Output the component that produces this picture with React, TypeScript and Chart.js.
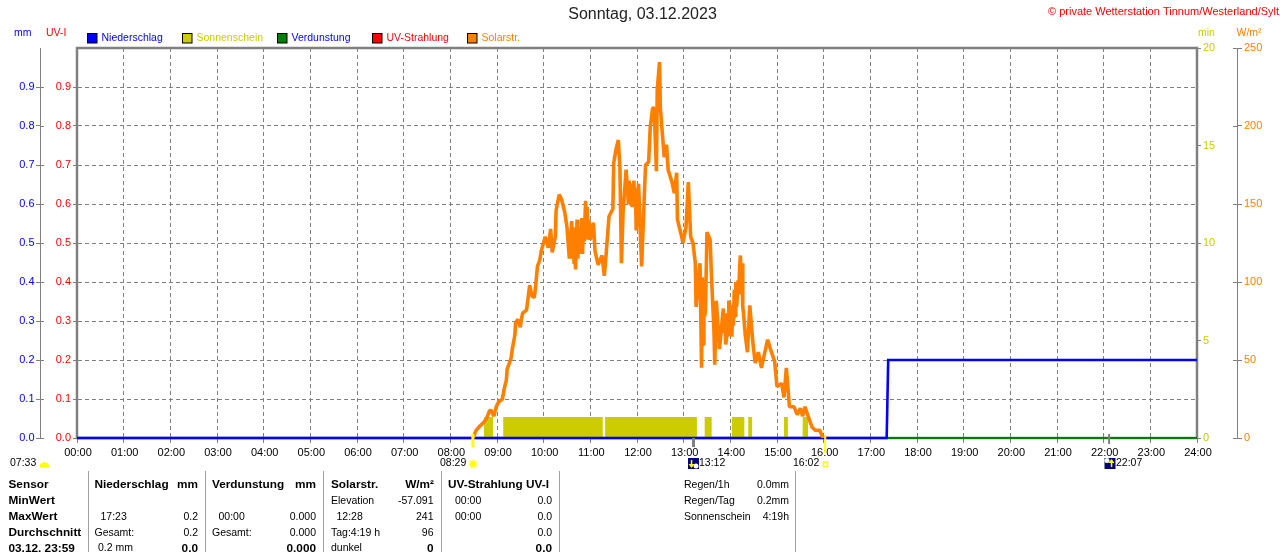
import React, { useEffect, useRef } from "react";
import { Chart, registerables } from "chart.js";

Chart.register(...registerables);

const titleText = "Sonntag, 03.12.2023";
const copyrightText = "© private Wetterstation Tinnum/Westerland/Sylt";

const solarMinutes = [509,513,518,523,527,530,532,536,539,542,547,549,552,553,558,560,563,564,567,570,571,573,578,580,582,585,588,590,592,595,597,602,606,609,611,615,616,620,623,627,630,633,636,637,638,639,640,641,642,643,644,645,646,647,648,649,650,651,652,653,654,655,656,657,658,659,660,664,666,670,675,678,680,684,689,690,693,696,698,700,702,706,708,709,710,711,712,713,714,715,716,717,718,719,720,721,722,723,724,726,729,731,735,737,740,742,745,746,749,750,752,755,758,760,765,768,771,772,777,779,783,786,789,792,795,796,801,803,804,805,806,807,808,810,814,816,819,820,822,826,831,832,833,834,835,836,837,838,839,840,841,842,843,844,845,846,847,848,849,850,851,852,853,854,855,856,857,859,862,865,869,872,876,880,883,888,891,897,900,906,909,912,916,922,926,930,933,936,940,945,949,955,958,963];
const solarWatts = [0,4.7,7.7,10,13,17,18,14,20,23,25,31,37,44,51,58,66,74,76,71,75,80,82,90,98,91,90,99,110,114,120,129,122,134,119,129,146,156,153,145,135,115,139,115,135,112,130,108,125,140,115,135,118,124,130,141,118,135,127,140,152,130,148,128,140,136,127,138,120,111,117,104,116,142,147,176,185,191,174,112,144,172,158,150,165,150,161,163,148,155,165,150,160,133,145,155,163,150,135,110,150,175,177,199,211,212,171,223,241,212,199,180,188,172,164,157,170,140,130,125,135,164,129,125,112,84,112,45,103,60,100,78,82,132,127,101,68,47,88,57,83,68,80,60,63,80,66,88,86,70,85,65,85,72,95,78,100,84,90,101,92,110,117,100,112,84,80,67,55,85,61,48,55,45,52,63,58,49,33,35,26,45,20,20,15,19,14,20,14,7,5,5,1,0];

const sunStartMinutes = [523,548,679,807,842,863,909,933];
const sunEndMinutes = [535,676,797,816,858,868,914,940];
const sunLevelMinutes = 1.08;

const rainMinutes = [0,1041,1042,1043,1440];
const rainMm = [0,0,0.1,0.2,0.2];

const flatMinutes = [0,1440];
const evaporationMm = [0,0];
const uvIndex = [0,0];

const legendLabels = ["Niederschlag","Sonnenschein","Verdunstung","UV-Strahlung","Solarstr."];
const legendBoxColors = ["#0000ff","#cccc00","#008000","#ff0000","#ff8000"];
const legendTextColors = ["#0000ff","#cccc00","#0000ff","#ff0000","#ff8000"];

const sunriseMinute = 509;
const sunsetMinute = 962;
const moonsetMinute = 792;
const moonriseMinute = 1327;

const tableHeaders = ["Sensor","Niederschlag","mm","Verdunstung","mm","Solarstr.","W/m²","UV-Strahlung UV-I"];
const rowNames = ["MinWert","MaxWert","Durchschnitt","03.12. 23:59"];
const rainTexts = ["","17:23","Gesamt:","0.2 mm"];
const rainValues = ["","0.2","0.2","0.0"];
const evapTexts = ["","00:00","Gesamt:",""];
const evapValues = ["","0.000","0.000","0.000"];
const solarTexts = ["Elevation","12:28","Tag:4:19 h","dunkel"];
const solarValues = ["-57.091","241","96","0"];
const uvTexts = ["00:00","00:00","",""];
const uvValues = ["0.0","0.0","0.0","0.0"];
const sideLabels = ["Regen/1h","Regen/Tag","Sonnenschein"];
const sideValues = ["0.0mm","0.2mm","4:19h"];

const FONT = '"Liberation Sans", Arial, sans-serif';
const GRAY = "#808080";

const overlay = {
  id: "overlay",
  beforeDatasetsDraw(chart: any) {
    const { ctx, chartArea: a } = chart;
    ctx.save();
    ctx.strokeStyle = GRAY;
    ctx.lineWidth = 2.5;
    ctx.strokeRect(a.left, a.top, a.right - a.left, a.bottom - a.top);
    ctx.restore();
  },
  afterDraw(chart: any) {
    const { ctx, scales } = chart;
    const x = scales.x;
    const text = (s: string, px: number, py: number, color = "#000", font = "10.5px", align: CanvasTextAlign = "left") => {
      ctx.font = `${font} ${FONT}`;
      ctx.fillStyle = color;
      ctx.textAlign = align;
      ctx.textBaseline = "middle";
      ctx.fillText(s, px, py);
    };
    ctx.save();

    text(titleText, 642.5, 15, "#222", "16px", "center");
    text(copyrightText, 1048, 11.5, "#ff0000", "11px");
    text("mm", 14, 33, "#0000ff");
    text("UV-I", 46, 33, "#ff0000");
    text("min", 1198, 33, "#cccc00");
    text("W/m²", 1236.5, 33, "#ff8000");

    legendLabels.forEach((label, i) => {
      const bx = 87.5 + i * 95;
      ctx.fillStyle = legendBoxColors[i];
      ctx.fillRect(bx, 33.5, 9.5, 9.5);
      ctx.strokeStyle = "#000";
      ctx.lineWidth = 1;
      ctx.strokeRect(bx, 33.5, 9.5, 9.5);
      text(label, bx + 14, 38.5, legendTextColors[i]);
    });

    // both-sided tick stubs on the outer axes
    ctx.strokeStyle = GRAY;
    ctx.lineWidth = 1;
    scales.mm.ticks.forEach((t: any) => {
      const py = Math.round(scales.mm.getPixelForValue(t.value)) + 0.5;
      if (t.value > 0.95) return;
      ctx.beginPath(); ctx.moveTo(40, py); ctx.lineTo(44, py); ctx.stroke();
    });
    scales.watt.ticks.forEach((t: any) => {
      const py = Math.round(scales.watt.getPixelForValue(t.value)) + 0.5;
      ctx.beginPath(); ctx.moveTo(1233, py); ctx.lineTo(1237, py); ctx.stroke();
    });

    // sunrise / sunset marks
    ctx.fillStyle = "#ffff00";
    const srx = x.getPixelForValue(sunriseMinute);
    const ssx = x.getPixelForValue(sunsetMinute);
    ctx.fillRect(srx - 1.5, 434, 3, 13);
    ctx.fillRect(ssx - 1, 435, 2, 18);

    // moon marks
    ctx.fillStyle = GRAY;
    const msx = x.getPixelForValue(moonsetMinute);
    const mrx = x.getPixelForValue(moonriseMinute);
    ctx.fillRect(msx - 1, 438, 3, 9);
    ctx.fillRect(mrx - 1, 434, 2, 10);

    text("07:33", 10, 463.5);
    ctx.fillStyle = "#ffff00";
    ctx.beginPath(); ctx.arc(44.5, 467, 4.8, Math.PI, 0); ctx.closePath(); ctx.fill();

    text("08:29", 440, 463.5);
    ctx.fillStyle = "#ffffb0";
    ctx.beginPath(); ctx.arc(473, 464, 5, 0, Math.PI * 2); ctx.fill();
    ctx.fillStyle = "#ffff00";
    ctx.beginPath(); ctx.arc(473, 464, 3.2, 0, Math.PI * 2); ctx.fill();

    text("16:02", 793, 463.5);
    ctx.strokeStyle = "#ffff00";
    ctx.lineWidth = 1.4;
    ctx.strokeRect(823.5, 462, 4, 4.5);

    const moon = (left: number, up: boolean) => {
      ctx.fillStyle = "#000080";
      ctx.fillRect(left, 458, 11, 11);
      ctx.fillStyle = "#ffffff";
      ctx.beginPath(); ctx.arc(up ? left + 2.5 : left + 8, up ? 460.5 : 466, 2.5, 0, Math.PI * 2); ctx.fill();
      ctx.fillStyle = "#ffff00";
      const cx = up ? left + 7 : left + 3.5;
      ctx.fillRect(cx - 0.7, 460, 1.5, 7);
      ctx.beginPath();
      if (up) { ctx.moveTo(cx - 3, 463); ctx.lineTo(cx + 3, 463); ctx.lineTo(cx, 459); }
      else { ctx.moveTo(cx - 3, 464); ctx.lineTo(cx + 3, 464); ctx.lineTo(cx, 468); }
      ctx.fill();
    };
    moon(688, false);
    text("13:12", 699, 463.5);
    moon(1104.5, true);
    text("22:07", 1116, 463.5);

    // table
    ctx.fillStyle = "#a0a0a0";
    [88, 205, 323, 441, 559, 795].forEach((dx) => ctx.fillRect(dx, 471, 1, 81));

    const B = "bold 11.8px";
    const headerY = 485;
    const rowY = [501, 517, 533, 548.5];
    text(tableHeaders[0], 8.5, headerY, "#000", B);
    text(tableHeaders[1], 94.5, headerY, "#000", B);
    text(tableHeaders[2], 198, headerY, "#000", B, "right");
    text(tableHeaders[3], 212, headerY, "#000", B);
    text(tableHeaders[4], 316, headerY, "#000", B, "right");
    text(tableHeaders[5], 331, headerY, "#000", B);
    text(tableHeaders[6], 434, headerY, "#000", B, "right");
    text(tableHeaders[7], 448, headerY, "#000", B);

    const rainIndent = [0, 100.5, 94.5, 98];
    const evapIndent = [0, 218.5, 212, 212];
    const solarIndent = [331, 336.5, 331, 331];
    rowY.forEach((y, i) => {
      const last = i === rowY.length - 1;
      const vf = last ? B : "10.5px";
      text(rowNames[i], 8.5, y, "#000", B);
      text(rainTexts[i], rainIndent[i], y);
      text(rainValues[i], 198, y, "#000", vf, "right");
      text(evapTexts[i], evapIndent[i], y);
      text(evapValues[i], 316, y, "#000", vf, "right");
      text(solarTexts[i], solarIndent[i], y);
      text(solarValues[i], 433.5, y, "#000", vf, "right");
      text(uvTexts[i], 455, y);
      text(uvValues[i], 552, y, "#000", vf, "right");
    });
    sideLabels.forEach((s, i) => {
      text(s, 684, 485 + i * 16);
      text(sideValues[i], 789, 485 + i * 16, "#000", "10.5px", "right");
    });

    ctx.restore();
  },
};

const pairs = (xs: number[], ys: number[]) => xs.map((v, i) => ({ x: v, y: ys[i] }));

const sunPoints = sunStartMinutes.flatMap((s, i) => [
  { x: s, y: 0 },
  { x: s, y: sunLevelMinutes },
  { x: sunEndMinutes[i], y: sunLevelMinutes },
  { x: sunEndMinutes[i], y: 0 },
]);

const yAxis = (width: number, position: string, weight: number, max: number, step: number, color: string, tickLength: number, padding: number, hideTop: boolean, grid: boolean, digits: number) => ({
  type: "linear",
  position,
  weight,
  min: 0,
  max,
  afterFit: (s: any) => { s.width = width; },
  border: { display: true, color: GRAY, width: 1 },
  grid: {
    drawOnChartArea: grid,
    drawTicks: true,
    tickLength,
    color: GRAY,
    tickColor: (c: any) => (hideTop && c.tick && c.tick.value > max - step / 2 ? "rgba(0,0,0,0)" : GRAY),
    tickBorderDash: [],
    lineWidth: 1,
  },
  ticks: {
    stepSize: step,
    color,
    padding,
    font: { family: FONT, size: 11 },
    callback: (v: number) => (hideTop && v > max - step / 2 ? "" : v.toFixed(digits)),
  },
});

export default function App() {
  const ref = useRef<HTMLCanvasElement>(null);
  useEffect(() => {
    document.body.style.margin = "0";
    document.body.style.background = "#fff";
    const uvAxis: any = yAxis(37, "left", 0, 1, 0.1, "#ff0000", 4, 2, true, true, 1);
    uvAxis.border = { display: true, color: GRAY, width: 1, dash: [4, 3] };
    const chart = new Chart(ref.current as HTMLCanvasElement, {
      type: "line",
      data: {
        datasets: [
          { label: legendLabels[3], data: pairs(flatMinutes, uvIndex), yAxisID: "uv", borderColor: "#ff0000", borderWidth: 2, pointRadius: 0, order: 5, clip: false },
          { label: legendLabels[2], data: pairs(flatMinutes, evaporationMm), yAxisID: "mm", borderColor: "#008000", borderWidth: 2, pointRadius: 0, order: 4, clip: false },
          { label: legendLabels[1], data: sunPoints, yAxisID: "minutes", borderWidth: 0, backgroundColor: "#cccc00", fill: "origin", pointRadius: 0, order: 3 },
          { label: legendLabels[0], data: pairs(rainMinutes, rainMm), yAxisID: "mm", borderColor: "#0000ff", borderWidth: 2.6, pointRadius: 0, order: 2, clip: false },
          { label: legendLabels[4], data: pairs(solarMinutes, solarWatts), yAxisID: "watt", borderColor: "#ff8000", borderWidth: 3.6, pointRadius: 0, order: 1, borderJoinStyle: "bevel" },
        ],
      } as any,
      options: {
        responsive: false,
        animation: false,
        devicePixelRatio: 1,
        layout: { padding: { top: 48, left: 0, right: 0, bottom: 0 } },
        plugins: { legend: { display: false }, title: { display: false }, tooltip: { enabled: false } },
        scales: {
          x: {
            type: "linear",
            min: 0,
            max: 1440,
            afterFit: (s: any) => { s.height = 114; },
            border: { display: true, color: GRAY, width: 1, dash: [4, 3] },
            grid: { color: GRAY, tickColor: GRAY, tickLength: 5, tickBorderDash: [], lineWidth: 1 },
            ticks: {
              stepSize: 60,
              autoSkip: false,
              maxRotation: 0,
              labelOffset: 1,
              color: "#000",
              padding: 3,
              font: { family: FONT, size: 11 },
              callback: (v: number) => `${String(v / 60).padStart(2, "0")}:00`,
            },
          },
          mm: yAxis(40, "left", 1, 1, 0.1, "#0000ff", 4, 1.5, true, false, 1),
          uv: uvAxis,
          minutes: yAxis(40, "right", 0, 20, 5, "#cccc00", 4, 2, false, false, 0),
          watt: yAxis(43, "right", 1, 250, 50, "#ff8000", 5, 2, false, false, 0),
        },
      } as any,
      plugins: [overlay],
    });
    return () => chart.destroy();
  }, []);
  return (
    <div style={{ width: 1280, height: 552, overflow: "hidden" }}>
      <canvas ref={ref} width={1280} height={552} style={{ display: "block" }} />
    </div>
  );
}
